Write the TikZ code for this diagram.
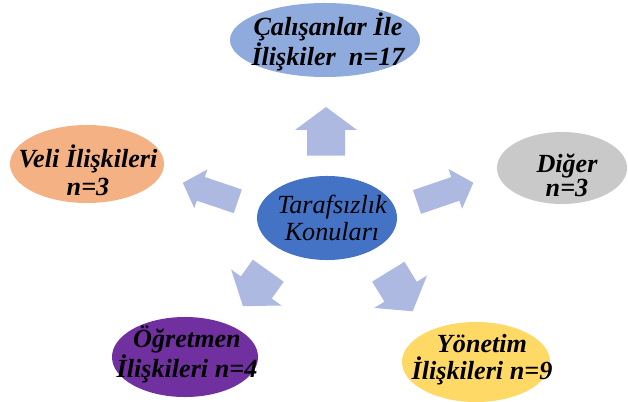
\documentclass[tikz,border=0pt]{standalone}
\usepackage{fontspec}
\setmainfont{Liberation Serif}
\usetikzlibrary{shapes.geometric}

\definecolor{calblue}{HTML}{8FAADC}
\definecolor{midblue}{HTML}{4472C4}
\definecolor{peach}{HTML}{F4B183}
\definecolor{greyish}{HTML}{C9C9C9}
\definecolor{plum}{HTML}{7030A0}
\definecolor{gold}{HTML}{FFD966}
\definecolor{arrowblue}{HTML}{ADB9E0}

% block arrow: half shaft, shaft length, half head, head length
\tikzset{pics/blockarr/.style n args={4}{code={
  \fill[arrowblue] (0,-#1)--(#2,-#1)--(#2,-#3)--(#2+#4,0)--(#2,#3)--(#2,#1)--(0,#1)--cycle ;}}}

\begin{document}
\begin{tikzpicture}[x=0.025cm,y=0.025cm,
    bubble/.style={ellipse,inner sep=0pt},
    lbl/.style={align=center,inner sep=0pt,font=\fontsize{18.6}{20}\selectfont\bfseries\itshape}]
      \useasboundingbox (0,0) rectangle (628,401) ;
      % arrows
      \pic[rotate=90] at (326,245.3) {blockarr={19}{25.7}{31}{23}} ;
      \pic[rotate=161.4] at (237.8,199.7) {blockarr={12.5}{39}{20.5}{19}} ;
      \pic[rotate=18.9] at (417,199) {blockarr={12.5}{40.5}{21}{19}} ;
      \pic[rotate=234.4] at (268.3,130.3) {blockarr={19}{20.6}{31}{23}} ;
      \pic[rotate=-58.4] at (388.3,129.3) {blockarr={19}{23.5}{31}{23}} ;
      % ellipses
      \node[bubble,fill=calblue,minimum width=4.75cm,minimum height=1.85cm] (cal) at (325,361) {} ;
      \node[bubble,fill=peach,minimum width=3.85cm,minimum height=1.95cm] (veli) at (87,237) {} ;
      \node[bubble,fill=midblue,minimum width=3.5cm,minimum height=2.1cm] (konu) at (327,183) {} ;
      \node[bubble,fill=plum,minimum width=3.65cm,minimum height=2cm] (ogr) at (185,44) {} ;
      \node[bubble,fill=gold,minimum width=3.7cm,minimum height=2cm] (yon) at (476,39) {} ;
      \node[bubble,fill=greyish,minimum width=3.25cm,minimum height=1.8cm] (dig) at (562,233) {} ;
      % texts
      \node[lbl] (calT) at ([shift={(3,-2)}]cal) {Çalışanlar İle\\İlişkiler\ \ n=17} ;
      \node[lbl] (veliT) at ([shift={(1,-6)}]veli) {Veli İlişkileri\\n=3} ;
      \node[lbl,font=\fontsize{18.6}{19}\selectfont\itshape] (konuT) at ([shift={(5,0)}]konu) {Tarafsızlık\\Konuları} ;
      \node[lbl,font=\fontsize{18.6}{19}\selectfont\bfseries\itshape] (ogrT) at ([shift={(2,2.5)}]ogr) {Öğretmen\\İlişkileri n=4} ;
      \node[lbl,font=\fontsize{18.6}{19}\selectfont\bfseries\itshape] (yonT) at ([shift={(6,2)}]yon) {Yönetim\\İlişkileri n=9} ;
      \node[lbl,font=\fontsize{18.6}{15.6}\selectfont\bfseries\itshape] (digT) at ([shift={(5,-7.5)}]dig) {Diğer\\n=3} ;
    \end{tikzpicture}
\end{document}
